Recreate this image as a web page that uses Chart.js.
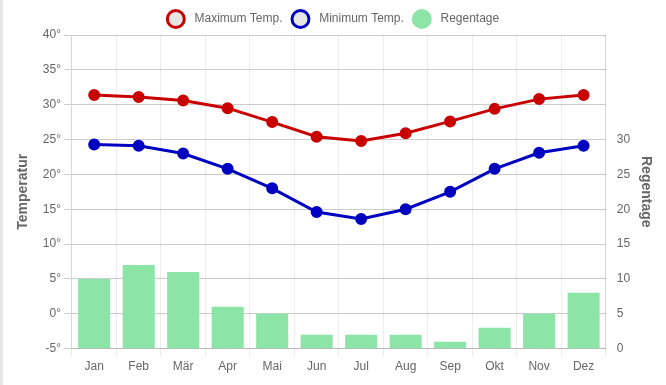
<!DOCTYPE html>
<html>
<head>
<meta charset="utf-8">
<script src="https://cdn.jsdelivr.net/npm/chart.js@4/dist/chart.umd.min.js"></script>
<style>
    html, body { margin: 0; padding: 0; background: #fff; }
    body { border-left: 3px solid #e6e6e6; width: 663px; height: 385px; }
    #wrap { position: relative; width: 663px; height: 385px; }
</style>
</head>
<body>
<div id="wrap"><canvas id="climate-chart"></canvas></div>
<script>
const months = ['Jan', 'Feb', 'Mär', 'Apr', 'Mai', 'Jun', 'Jul', 'Aug', 'Sep', 'Okt', 'Nov', 'Dez'];
const maxTemp = [31.4, 31.1, 30.6, 29.5, 27.5, 25.4, 24.8, 25.9, 27.6, 29.4, 30.8, 31.4];
const minTemp = [24.3, 24.1, 23.0, 20.8, 18.0, 14.6, 13.6, 15.0, 17.5, 20.8, 23.1, 24.1];
const rainDays = [10, 12, 11, 6, 5, 2, 2, 2, 1, 3, 5, 8];

Chart.defaults.font.family = "'Liberation Sans', Arial, sans-serif";
Chart.defaults.color = '#666';

const ctx = document.getElementById('climate-chart').getContext('2d');
const climateChart = new Chart(ctx, {
    type: 'bar',
    data: {
        labels: months,
        datasets: [
            {
                type: 'line',
                label: 'Maximum Temp.',
                data: maxTemp,
                borderColor: '#c80000',
                pointBackgroundColor: '#c80000',
                pointBorderColor: '#c80000',
                borderWidth: 3,
                pointRadius: 4.5,
                fill: false,
                yAxisID: 'y'
            },
            {
                type: 'line',
                label: 'Minimum Temp.',
                data: minTemp,
                borderColor: '#0000c0',
                pointBackgroundColor: '#0000c0',
                pointBorderColor: '#0000c0',
                borderWidth: 3,
                pointRadius: 4.5,
                fill: false,
                yAxisID: 'y'
            },
            {
                label: 'Regentage',
                data: rainDays,
                backgroundColor: '#8ce4a6',
                borderColor: '#8ce4a6',
                yAxisID: 'y1'
            }
        ]
    },
    options: {
        responsive: true,
        maintainAspectRatio: false,
        animation: false,
        layout: {
            padding: { left: 8, right: 8, top: 1, bottom: 8 }
        },
        plugins: {
            legend: {
                position: 'top',
                labels: {
                    usePointStyle: true,
                    pointStyle: 'circle',
                    padding: 12,
                    generateLabels: function(chart) {
                        return chart.data.datasets.map((ds, i) => ({
                            text: '  ' + ds.label,
                            fillStyle: ds.type === 'line' ? '#e6e6e6' : ds.backgroundColor,
                            strokeStyle: ds.borderColor,
                            lineWidth: 3,
                            pointStyle: 'circle',
                            fontColor: '#666',
                            hidden: !chart.isDatasetVisible(i),
                            datasetIndex: i
                        }));
                    }
                }
            }
        },
        scales: {
            x: {
                grid: {
                    color: 'rgba(0,0,0,0.07)'
                }
            },
            y: {
                position: 'left',
                min: -5,
                max: 40,
                ticks: {
                    stepSize: 5,
                    callback: v => v + '°'
                },
                grid: {
                    color: 'rgba(0,0,0,0.2)'
                },
                title: {
                    display: true,
                    text: 'Temperatur',
                    padding: { top: 4, bottom: 8 },
                    font: { size: 14, weight: 'bold' }
                }
            },
            y1: {
                position: 'right',
                min: 0,
                max: 45,
                ticks: {
                    stepSize: 5,
                    callback: v => v <= 30 ? v : ''
                },
                grid: {
                    display: false
                },
                title: {
                    display: true,
                    text: 'Regentage',
                    font: { size: 14, weight: 'bold' }
                }
            }
        }
    }
});
</script>
</body>
</html>
